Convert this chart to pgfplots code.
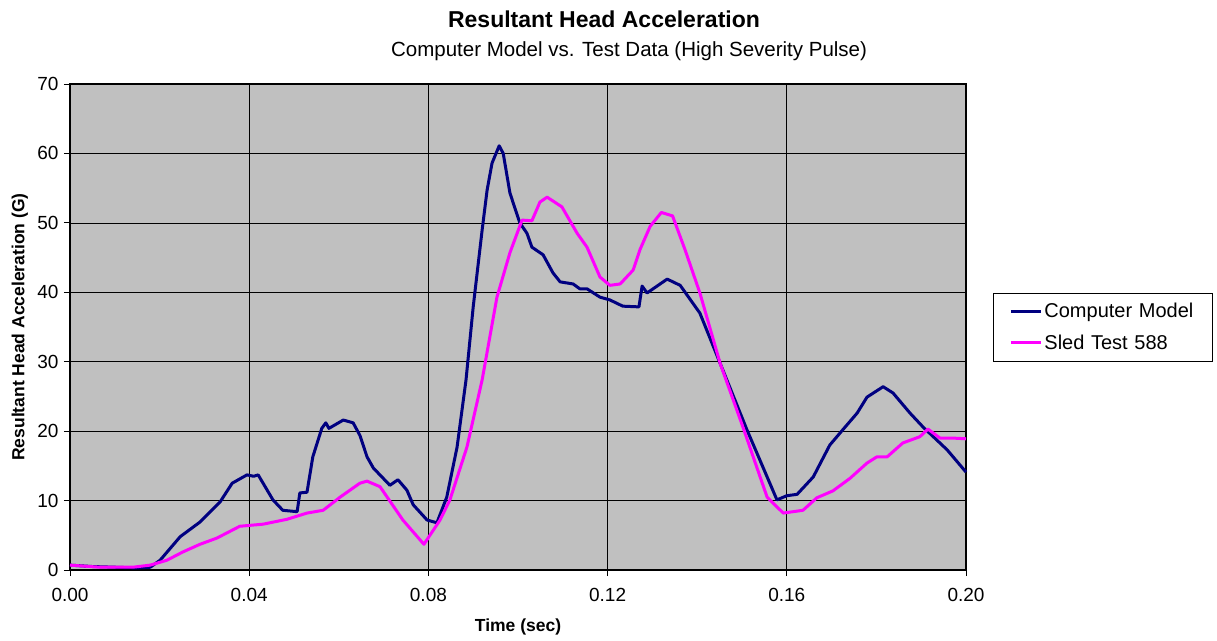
\documentclass[border=0pt]{standalone}
\usepackage{fontspec}
\setmainfont{Liberation Sans}
\usepackage{pgfplots}
\pgfplotsset{compat=1.18}
\definecolor{navyline}{RGB}{0,0,128}
\definecolor{magline}{RGB}{255,0,255}
\definecolor{plotgray}{RGB}{192,192,192}
\begin{document}
\begin{tikzpicture}
\useasboundingbox (-70pt,-70pt) rectangle (1147pt,570pt);
\begin{axis}[
  scale only axis,
  width=896pt, height=486pt,
  xmin=0, xmax=0.2, ymin=0, ymax=70,
  xtick={0,0.04,...,0.2}, ytick={0,10,...,70},
  axis background/.style={fill=plotgray},
  axis line style={black, line width=2pt},
  grid=major,
  major grid style={black, line width=0.7pt},
  tick align=outside, tick pos=left,
  major tick length=6pt,
  tick style={black, line width=0.8pt},
  /pgf/number format/assume math mode=true,
  xticklabel style={/pgf/number format/fixed, /pgf/number format/fixed zerofill,
    /pgf/number format/precision=2, yshift=-9pt},
  yticklabel style={xshift=-2pt},
  scaled x ticks=false,
  tick label style={font=\fontsize{19}{22}\selectfont},
  xlabel={\textbf{Time (sec)}},
  ylabel={\textbf{Resultant Head Acceleration (G)}},
  label style={font=\fontsize{17.5}{20}\selectfont},
  xlabel style={at={(axis description cs:0.5,0)}, anchor=base, yshift=-61pt},
  ylabel style={at={(axis description cs:-0.056,0.5)}, anchor=center},
  legend style={at={(1,0.5)}, anchor=west, xshift=27pt, draw=black, line width=0.8pt,
    font=\fontsize{20}{23}\selectfont, inner xsep=16pt, inner ysep=8pt,
    row sep=12pt, text width=150pt},
  legend cell align=left,
  legend image code/.code={\draw[#1, line width=3pt] (0pt,0pt) -- (30pt,0pt);},
  clip=false,
]
\addplot[navyline, line width=3pt, line join=round] coordinates {
(0,0.7)(0.005,0.5)(0.01,0.4)(0.015,0.3)(0.0179,0.4)(0.0201,1.4)(0.0246,4.8)(0.029,6.9)
(0.0335,9.8)(0.0362,12.5)(0.0395,13.7)(0.041,13.5)(0.042,13.7)(0.0453,10.1)(0.0475,8.6)
(0.0507,8.4)(0.0513,11.1)(0.0529,11.2)(0.0542,16.3)(0.0562,20.4)(0.0571,21.2)(0.0578,20.4)
(0.061,21.6)(0.0632,21.2)(0.0647,19.4)(0.0663,16.3)(0.0677,14.7)(0.0714,12.2)(0.0732,13.0)
(0.0752,11.5)(0.0766,9.4)(0.0797,7.2)(0.0819,6.8)(0.0841,10.5)(0.0864,17.7)(0.0884,27.4)
(0.09,37.9)(0.092,49)(0.0931,54.7)(0.0942,58.6)(0.0958,61.1)(0.0967,60)(0.0982,54.3)
(0.1004,50)(0.102,48.5)(0.1031,46.5)(0.1056,45.4)(0.1078,42.8)(0.1094,41.5)(0.1123,41.2)
(0.1138,40.5)(0.1154,40.5)(0.1183,39.3)(0.1205,38.9)(0.1234,38.0)(0.127,37.9)(0.1277,40.9)
(0.1288,39.9)(0.1333,41.9)(0.1362,41)(0.1406,37)(0.1451,29.8)(0.1511,20.2)(0.1578,10.1)
(0.16,10.7)(0.1623,10.9)(0.1659,13.4)(0.1696,18)(0.1725,20.2)(0.1757,22.6)(0.1779,24.9)
(0.1815,26.4)(0.1837,25.5)(0.1875,22.6)(0.1904,20.6)(0.1958,17.3)(0.2,14.1)
};
\addlegendentry{Computer Model}
\addplot[magline, line width=3pt, line join=round] coordinates {
(0,0.7)(0.0067,0.4)(0.014,0.4)(0.0179,0.7)(0.0216,1.4)(0.0252,2.6)(0.029,3.7)(0.0328,4.6)
(0.0379,6.3)(0.0431,6.6)(0.0484,7.3)(0.0529,8.2)(0.0565,8.6)(0.0603,10.5)(0.0647,12.5)
(0.0663,12.8)(0.0692,12.0)(0.0743,7.2)(0.079,3.7)(0.0826,7.2)(0.0848,10.1)(0.0886,17.7)
(0.092,27.4)(0.0953,39.3)(0.0982,45.7)(0.1009,50.4)(0.1031,50.3)(0.1049,53)(0.1065,53.7)
(0.1098,52.3)(0.1132,48.5)(0.1154,46.5)(0.1183,42.2)(0.1205,41)(0.1228,41.2)(0.1257,43.2)
(0.1272,46.1)(0.1295,49.5)(0.132,51.5)(0.1345,51)(0.1373,46.1)(0.1406,39.9)(0.1451,29.8)
(0.1502,20.6)(0.1556,10.5)(0.1592,8.2)(0.1636,8.6)(0.1667,10.4)(0.1703,11.4)(0.1741,13.2)
(0.1779,15.4)(0.1801,16.3)(0.1824,16.3)(0.1859,18.3)(0.1897,19.2)(0.1915,20.3)(0.1942,19)
(0.1971,19)(0.2,18.9)
};
\addlegendentry{Sled Test 588}
\node[font=\bfseries\fontsize{23}{27}\selectfont, anchor=base] at (rel axis cs:0.596,1) [yshift=57pt] {Resultant Head Acceleration};
\node[font=\fontsize{20.5}{24}\selectfont, anchor=base] at (rel axis cs:0.624,1) [yshift=28pt] {Computer Model vs. Test Data (High Severity Pulse)};
\end{axis}
\end{tikzpicture}
\end{document}
